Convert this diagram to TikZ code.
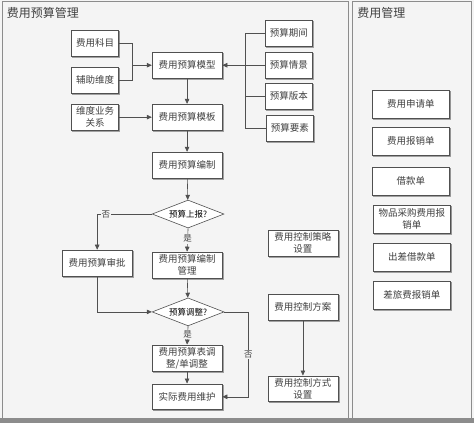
\documentclass[tikz,border=0pt]{standalone}
\usepackage{fontspec}
\setmainfont{Noto Sans CJK SC}
\usetikzlibrary{arrows.meta,shapes.geometric,shadows}

\definecolor{panelbg}{HTML}{F4F4F4}
\definecolor{edgegray}{HTML}{8C8C8C}
\definecolor{linegray}{HTML}{505050}

\tikzset{
  box/.style={draw=linegray, fill=white, minimum width=70pt, minimum height=26pt,
              inner sep=1pt, align=center, font=\fontsize{9.5}{12}\selectfont,
              text=black!75, drop shadow={fill=black!25, shadow xshift=1pt, shadow yshift=-1pt}},
  smallbox/.style={box, minimum width=47pt},
  ask/.style={diamond, aspect=2.6, draw=linegray, fill=white, inner sep=0.5pt,
              minimum width=72pt, minimum height=28pt, font=\fontsize{8.5}{10}\selectfont},
  lab/.style={fill=panelbg, inner sep=1pt, font=\fontsize{8.5}{10}\selectfont, text=black!75},
  every path/.style={draw=linegray, line width=0.6pt},
  >={Triangle[length=5pt,width=4.5pt]}
}

\begin{document}
\begin{tikzpicture}[x=1pt,y=-1pt]
 \useasboundingbox (0,0) rectangle (474,423);
 % panels
 \fill[panelbg] (0,0) rectangle (474,423);
 \draw[edgegray, line width=1.2pt] (2,1) rectangle (349,419);
 \draw[edgegray, line width=1.2pt] (353,1) rectangle (472,419);
 \fill[edgegray] (0,419) rectangle (474,423);
 \node[anchor=west, font=\fontsize{12}{14}\selectfont, text=black!75] (title1) at (3,13) {费用预算管理};
 \node[anchor=west, font=\fontsize{12}{14}\selectfont, text=black!75] (title2) at (354,13) {费用管理};

 % budget model
 \begin{scope}[every node/.style={smallbox}]
  \node (km) at (95,43) {费用科目};
  \node (fz) at (95,80) {辅助维度};
  \node (gx) at (95,117) {维度业务\\关系};
  \node (qj) at (289,33) {预算期间};
  \node (qx) at (289,65) {预算情景};
  \node (bb) at (289,96) {预算版本};
  \node (ys) at (290,128) {预算要素};
 \end{scope}
 \begin{scope}[every node/.style={box}]
  \node (mx) at (187,65) {费用预算模型};
  \node (mb) at (187,117) {费用预算模板};
  \node (bz) at (187,165) {费用预算编制};
  \node (sp) at (97,263) {费用预算审批};
  \node (gl) at (187,265) {费用预算编制\\管理};
  \node (tz) at (187,358) {费用预算表调\\整/单调整};
  \node (wh) at (187,397) {实际费用维护};
  \node (cl) at (303,243) {费用控制策略\\设置};
  \node (fa) at (303,307) {费用控制方案};
  \node (fs) at (303,389) {费用控制方式\\设置};
 \end{scope}
 \node[ask] (sb) at (188,214) {预算上报?};
 \node[ask] (dz) at (188,312) {预算调整?};

 % expense documents
 \begin{scope}[every node/.style={box, minimum width=78pt, minimum height=28pt}]
  \node (sq) at (411,104) {费用申请单};
  \node (bx) at (411,141) {费用报销单};
  \node (jk) at (411,181) {借款单};
  \node (cg) at (412,219) {物品采购费用报\\销单};
  \node (cc) at (412,257) {出差借款单};
  \node (cl2) at (412,295) {差旅费报销单};
 \end{scope}

 % connectors
 \coordinate (lj) at (132,65);
 \coordinate (rj) at (245,65);
 \draw (km.east) -| (lj) |- (fz.east);
 \draw[->] (lj) -- (mx.west);
 \draw (qj.west) -| (rj);
 \draw (qx.west) -- (rj);
 \draw (bb.west) -| (rj);
 \draw (ys.west) -| (rj);
 \draw[->] (rj) -- (mx.east);
 \draw[->] (gx) -- (mb);
 \draw[->] (mx) -- (mb);
 \draw[->] (mb) -- (bz);
 \draw[->] (bz) -- (sb);
 \draw[->] (sb.west) -| node[lab, pos=0.42] {否} (sp.north);
 \draw[->] (sb.south) -- node[lab, pos=0.45] {是} (gl.north);
 \draw[->] (sp.south) |- (dz.west);
 \draw[->] (gl) -- (dz);
 \draw[->] (dz.south) -- node[lab, pos=0.45] {是} (tz.north);
 \draw[->] (tz) -- (wh);
 \draw[->] (dz.east) -- ++(24,0) |- node[lab, pos=0.25] {否} (wh.east);
 \draw[->] (fa) -- (fs);
\end{tikzpicture}
\end{document}
